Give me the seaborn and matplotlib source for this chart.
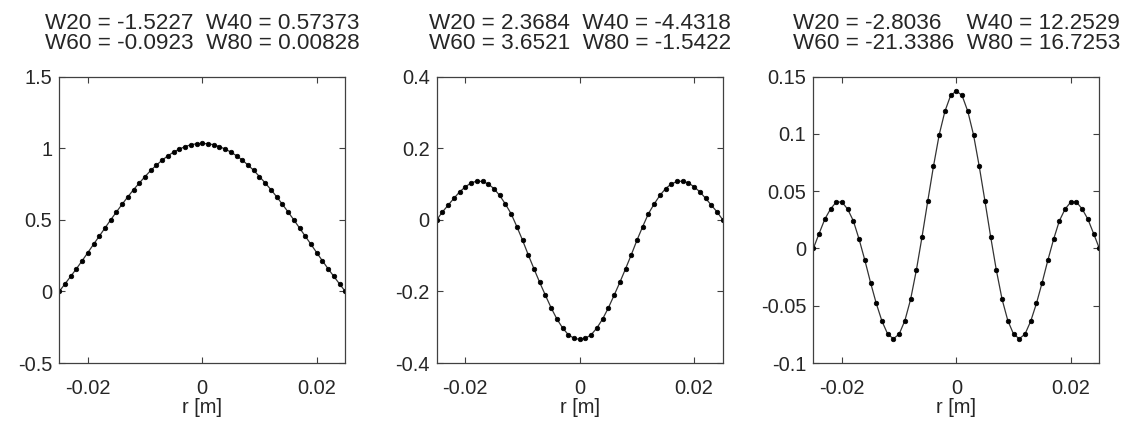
import numpy as np
import pandas as pd
import matplotlib
matplotlib.use("Agg")
import matplotlib.pyplot as plt
from matplotlib.ticker import FormatStrFormatter
import seaborn as sns

# sample positions (m)
r = [-0.025, -0.024, -0.023, -0.022, -0.021, -0.020, -0.019, -0.018, -0.017, -0.016,
     -0.015, -0.014, -0.013, -0.012, -0.011, -0.010, -0.009, -0.008, -0.007, -0.006,
     -0.005, -0.004, -0.003, -0.002, -0.001, 0.0, 0.001, 0.002, 0.003, 0.004,
     0.005, 0.006, 0.007, 0.008, 0.009, 0.010, 0.011, 0.012, 0.013, 0.014,
     0.015, 0.016, 0.017, 0.018, 0.019, 0.020, 0.021, 0.022, 0.023, 0.024, 0.025]

# mode shapes
w1 = [0, 0.052, 0.105, 0.158, 0.214, 0.271, 0.329, 0.386, 0.443, 0.500,
      0.555, 0.609, 0.661, 0.711, 0.757, 0.802, 0.845, 0.882, 0.917, 0.947,
      0.973, 0.994, 1.011, 1.024, 1.031, 1.033, 1.031, 1.024, 1.011, 0.994,
      0.973, 0.947, 0.917, 0.882, 0.845, 0.802, 0.757, 0.711, 0.661, 0.609,
      0.555, 0.500, 0.443, 0.386, 0.329, 0.271, 0.214, 0.158, 0.105, 0.052, 0]

w2 = [0, 0.022, 0.041, 0.060, 0.078, 0.092, 0.103, 0.108, 0.107, 0.100,
      0.087, 0.068, 0.044, 0.017, -0.019, -0.057, -0.098, -0.137, -0.175, -0.211,
      -0.246, -0.277, -0.302, -0.321, -0.331, -0.334, -0.331, -0.321, -0.302, -0.277,
      -0.246, -0.211, -0.175, -0.137, -0.098, -0.057, -0.019, 0.017, 0.044, 0.068,
      0.087, 0.100, 0.107, 0.108, 0.103, 0.092, 0.078, 0.060, 0.041, 0.022, 0]

w3 = [0, 0.0129, 0.0255, 0.0344, 0.0405, 0.0405, 0.0343, 0.0240, 0.0080, -0.0102,
      -0.0298, -0.0480, -0.0635, -0.0748, -0.0788, -0.0748, -0.0630, -0.0445, -0.0192, 0.0101,
      0.0413, 0.0717, 0.0992, 0.1197, 0.1335, 0.1375, 0.1335, 0.1197, 0.0992, 0.0717,
      0.0413, 0.0101, -0.0192, -0.0445, -0.0630, -0.0748, -0.0788, -0.0748, -0.0635, -0.0480,
      -0.0298, -0.0102, 0.0080, 0.0240, 0.0343, 0.0405, 0.0405, 0.0344, 0.0255, 0.0129, 0]

titles = ["W20 = -1.5227  W40 = 0.57373\nW60 = -0.0923  W80 = 0.00828",
          "W20 = 2.3684  W40 = -4.4318\nW60 = 3.6521  W80 = -1.5422",
          "W20 = -2.8036    W40 = 12.2529\nW60 = -21.3386  W80 = 16.7253"]

ylims = [(-0.5, 1.5), (-0.4, 0.4), (-0.1, 0.15)]
yticks = [[-0.5, 0, 0.5, 1, 1.5],
          [-0.4, -0.2, 0, 0.2, 0.4],
          [-0.1, -0.05, 0, 0.05, 0.1, 0.15]]
xticks = [-0.02, 0, 0.02]

sns.set_style("ticks")
plt.rcParams["font.family"] = ["Liberation Sans", "DejaVu Sans"]

fig = plt.figure(figsize=(11.35, 4.22), dpi=100)
lefts = [0.0522, 0.3848, 0.7166]

for i, w in enumerate([w1, w2, w3]):
    ax = fig.add_axes([lefts[i], 0.1398, 0.252, 0.6787])
    df = pd.DataFrame({"r": r, "w": w})
    sns.lineplot(data=df, x="r", y="w", ax=ax, color="#333333", linewidth=0.9,
                 marker="o", markersize=3.3, markerfacecolor="black",
                 markeredgecolor="black", markeredgewidth=0.5)
    ax.set_xlim(-0.025, 0.025)
    ax.set_ylim(*ylims[i])
    ax.set_xticks(xticks)
    ax.set_yticks(yticks[i])
    ax.xaxis.set_major_formatter(FormatStrFormatter("%g"))
    ax.yaxis.set_major_formatter(FormatStrFormatter("%g"))
    ax.tick_params(direction="in", length=4, width=0.8, color="#404040",
                   top=True, right=True, labelsize=14.4, pad=5)
    ax.tick_params(axis="x", pad=11.5)
    for s in ax.spines.values():
        s.set_visible(True)
        s.set_color("#404040")
        s.set_linewidth(0.9)
    ax.set_xlabel("r [m]", fontsize=14.4, labelpad=0)
    ax.set_ylabel("")
    ax.set_title(titles[i], fontsize=16.2, pad=20, linespacing=0.93)

fig.savefig("out.png", dpi=100)
